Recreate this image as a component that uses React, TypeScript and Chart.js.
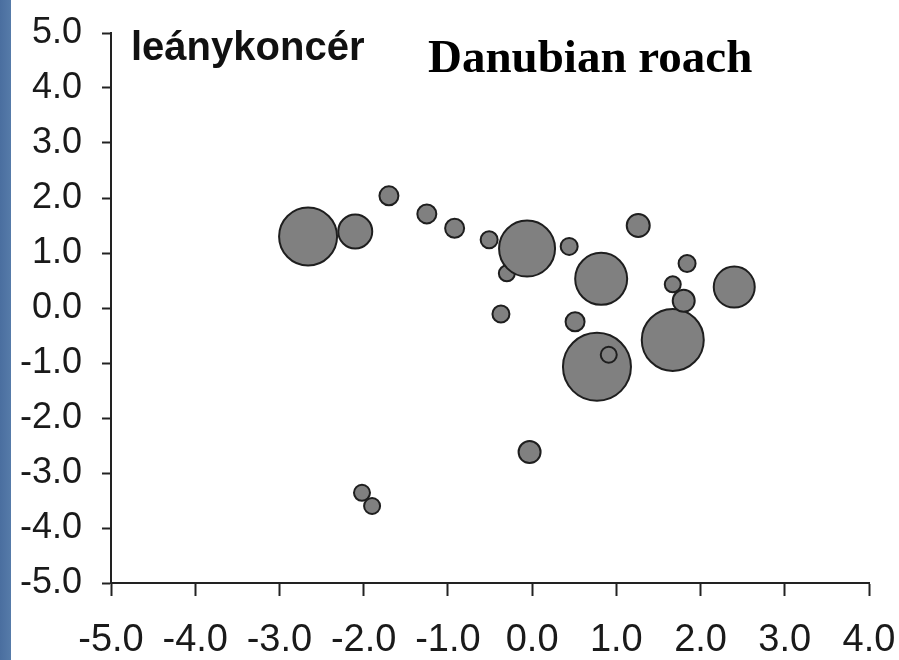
import React, { useEffect, useRef } from "react";
import { Chart, registerables } from "chart.js";

Chart.register(...registerables);

const titleHu = "leánykoncér";
const titleEn = "Danubian roach";

const xTicks = [-5, -4, -3, -2, -1, 0, 1, 2, 3, 4];
const yTicks = [-5, -4, -3, -2, -1, 0, 1, 2, 3, 4, 5];

// bubble centres (x, y) and radii (px), in drawing order
const bubbleX = [-2.66, -2.10, -1.70, -1.25, -0.92, -0.30, -0.51, -0.06, 0.44, 0.82, -0.37, 0.51, 0.77, 0.91, 1.26, 1.84, 1.67, 1.67, 1.80, 2.40, -2.02, -1.90, -0.03];
const bubbleY = [1.30, 1.39, 2.04, 1.71, 1.45, 0.63, 1.24, 1.08, 1.12, 0.53, -0.11, -0.25, -1.07, -0.85, 1.50, 0.81, 0.43, -0.58, 0.13, 0.38, -3.36, -3.60, -2.62];
const bubbleR = [29, 17, 9.5, 9.5, 9.5, 8, 8.5, 28, 8.5, 26, 8.5, 9.5, 34, 8, 11.5, 8.5, 8, 31, 11, 20.5, 8, 8, 11];

// plot frame (canvas pixels)
const AREA = { left: 111, top: 33, right: 869, bottom: 583 };

const bgPlugin = {
  id: "bg",
  beforeDraw(chart: any) {
    const { ctx, width, height } = chart;
    ctx.save();
    ctx.fillStyle = "#ffffff";
    ctx.fillRect(0, 0, width, height);
    const g = ctx.createLinearGradient(0, 0, 11, 0);
    g.addColorStop(0, "#4a6e9f");
    g.addColorStop(1, "#567ba9");
    ctx.fillStyle = g;
    ctx.fillRect(0, 0, 11, height);
    ctx.restore();
  },
};

const framePlugin = {
  id: "frame",
  afterLayout(chart: any) {
    const H = chart.height;
    chart.chartArea = {
      left: AREA.left,
      top: AREA.top,
      right: AREA.right,
      bottom: AREA.bottom,
      width: AREA.right - AREA.left,
      height: AREA.bottom - AREA.top,
    };
    const x = chart.scales.x;
    x.left = AREA.left;
    x.right = AREA.right;
    x.width = AREA.right - AREA.left;
    x.top = AREA.bottom;
    x.bottom = H;
    x.height = H - AREA.bottom;
    x._labelItems = null;
    x._gridLineItems = null;
    x.configure();
    const y = chart.scales.y;
    y.left = 0;
    y.right = AREA.left;
    y.width = AREA.left;
    y.top = AREA.top;
    y.bottom = AREA.bottom;
    y.height = AREA.bottom - AREA.top;
    y._labelItems = null;
    y._gridLineItems = null;
    y.configure();
  },
};

const titlePlugin = {
  id: "titles",
  afterDraw(chart: any) {
    const { ctx, chartArea } = chart;
    ctx.save();
    ctx.fillStyle = "#111111";
    ctx.textBaseline = "alphabetic";
    ctx.textAlign = "left";
    ctx.font = "bold 40px 'Liberation Sans', Arial, sans-serif";
    ctx.fillText(titleHu, chartArea.left + 20, 60);
    ctx.fillStyle = "#000000";
    ctx.font = "bold 47px 'Liberation Serif', 'Times New Roman', serif";
    ctx.fillText(titleEn, chartArea.left + 317, 72);
    ctx.restore();
  },
};

export default function App() {
  const ref = useRef<HTMLCanvasElement | null>(null);

  useEffect(() => {
    document.body.style.margin = "0";
    const canvas = ref.current;
    if (!canvas) return;
    const data = bubbleX.map((x, i) => ({ x, y: bubbleY[i], r: bubbleR[i] }));
    const chart = new Chart(canvas, {
      type: "bubble",
      data: {
        datasets: [
          {
            data,
            backgroundColor: "#808080",
            borderColor: "#1e1e1e",
            borderWidth: 2,
            clip: false,
          } as any,
        ],
      },
      options: {
        responsive: false,
        animation: false,
        events: [],
        layout: { autoPadding: false, padding: { left: 0, top: 33, right: 30, bottom: 0 } },
        plugins: {
          legend: { display: false },
          tooltip: { enabled: false },
          title: { display: false },
        },
        scales: {
          x: {
            type: "linear",
            min: xTicks[0],
            max: xTicks[xTicks.length - 1],
            afterBuildTicks: (s: any) => {
              s.ticks = xTicks.map((v) => ({ value: v }));
            },
            afterFit: (s: any) => {
              s.height = 77;
            },
            grid: {
              display: true,
              drawOnChartArea: false,
              drawTicks: true,
              tickLength: 13,
              tickWidth: 2,
              tickColor: "#222222",
            },
            border: { display: true, color: "#222222", width: 2 },
            ticks: {
              padding: 22,
              color: "#1a1a1a",
              maxRotation: 0,
              autoSkip: false,
              font: { family: "'Liberation Sans', Arial, sans-serif", size: 38 },
              callback: (v: any) => Number(v).toFixed(1),
            },
          },
          y: {
            type: "linear",
            min: yTicks[0],
            max: yTicks[yTicks.length - 1],
            afterBuildTicks: (s: any) => {
              s.ticks = yTicks.map((v) => ({ value: v }));
            },
            afterFit: (s: any) => {
              s.width = 111;
            },
            grid: {
              display: true,
              drawOnChartArea: false,
              drawTicks: true,
              tickLength: 9,
              tickWidth: 2,
              tickColor: "#222222",
            },
            border: { display: true, color: "#222222", width: 2 },
            ticks: {
              padding: 20,
              color: "#1a1a1a",
              autoSkip: false,
              font: { family: "'Liberation Sans', Arial, sans-serif", size: 36 },
              callback: (v: any) => Number(v).toFixed(1),
            },
          },
        },
      },
      plugins: [bgPlugin, framePlugin, titlePlugin],
    });
    return () => chart.destroy();
  }, []);

  return (
    <div style={{ position: "absolute", left: 0, top: 0, width: 899, height: 660 }}>
      <canvas ref={ref} width={899} height={660} style={{ width: 899, height: 660, display: "block" }} />
    </div>
  );
}
